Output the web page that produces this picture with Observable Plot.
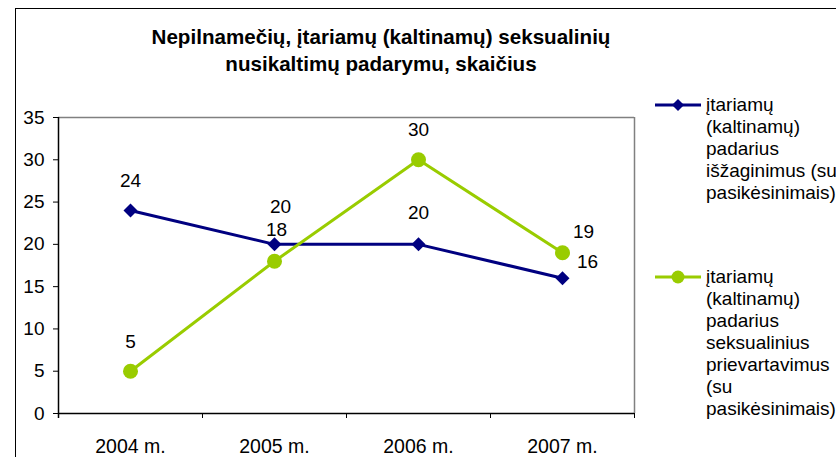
<!DOCTYPE html>
<html>
<head>
<meta charset="utf-8">
<script src="https://cdn.jsdelivr.net/npm/d3@7"></script>
<script src="https://cdn.jsdelivr.net/npm/@observablehq/plot@0.6"></script>
<style>
  html, body { margin: 0; padding: 0; background: #fff; overflow: hidden; }
  #wrap { position: relative; width: 836px; height: 457px; overflow: hidden; font-family: "Liberation Sans", Arial, sans-serif; }
  #frame { position: absolute; left: 15px; top: 8px; width: 900px; height: 600px; border: 1.5px solid #000; box-sizing: border-box; }
  #title { position: absolute; left: 101px; width: 560px; top: 23px; text-align: center; font-weight: bold; font-size: 20.6px; line-height: 27px; color: #000; }
  #chart { position: absolute; left: 0; top: 0; }
  .leg { position: absolute; left: 654px; }
  .leg svg { position: absolute; left: 0; }
  .leg .txt { position: absolute; left: 52px; font-size: 19px; line-height: 22px; color: #000; white-space: nowrap; }
</style>
</head>
<body>
<div id="wrap">
  <div id="frame"></div>
  <div id="title"></div>
  <div id="chart"></div>
  <div id="legend"></div>
</div>
<script>
const title = ["Nepilnamečių, įtariamų (kaltinamų) seksualinių", "nusikaltimų padarymu, skaičius"];
const years = ["2004 m.", "2005 m.", "2006 m.", "2007 m."];
const seriesNames = [
  ["įtariamų", "(kaltinamų)", "padarius", "išžaginimus (su", "pasikėsinimais)"],
  ["įtariamų", "(kaltinamų)", "padarius", "seksualinius", "prievartavimus", "(su", "pasikėsinimais)"]
];
const rapeValues = [24, 20, 20, 16];
const sexAbuseValues = [5, 18, 30, 19];
const yTicks = [0, 5, 10, 15, 20, 25, 30, 35];

const blue = "#000080";
const green = "#99CC00";

// layout (not data)
const W = 836, H = 457, ML = 58, MR = 202, MT = 117, MB = 44;
const half = (W - ML - MR) / years.length / 2;
const labelOffsets = [
  [[0, -30], [6, -37], [0, -31], [25, -16]],
  [[0, -29], [2, -31], [0, -30], [21, -21]]
];

document.getElementById("title").innerHTML = title.join("<br>");

const s1 = years.map((x, i) => ({x, y: rapeValues[i]}));
const s2 = years.map((x, i) => ({x, y: sexAbuseValues[i]}));

const labelMarks = [];
[s1, s2].forEach((s, si) => {
  s.forEach((d, i) => {
    labelMarks.push(Plot.text([d], {
      x: "x", y: "y", text: dd => String(dd.y),
      dx: labelOffsets[si][i][0], dy: labelOffsets[si][i][1],
      fontSize: 19, fill: "#000"
    }));
  });
});

const chart = Plot.plot({
  width: W, height: H,
  marginLeft: ML, marginRight: MR, marginTop: MT, marginBottom: MB,
  style: {fontFamily: '"Liberation Sans", Arial, sans-serif', color: "#000", background: "transparent", overflow: "visible"},
  x: {type: "band", domain: years, padding: 0, axis: null},
  y: {domain: [0, 35], axis: null},
  marks: [
    Plot.ruleY([35], {stroke: "#808080", strokeWidth: 1.5}),
    Plot.ruleX([years[years.length - 1]], {dx: half, stroke: "#808080", strokeWidth: 1.5}),
    Plot.axisY({ticks: yTicks, tickSize: 5, tickPadding: 9, fontSize: 19, stroke: "#000", fill: "#000", label: null}),
    Plot.axisX({tickSize: 0, tickPadding: 26, fontSize: 19.5, fill: "#000", label: null}),
    Plot.axisX({tickSize: 5, tickFormat: () => "", dx: half, stroke: "#000", label: null}),
    Plot.ruleY([0], {stroke: "#000", strokeWidth: 1.5}),
    Plot.ruleX([years[0]], {dx: -half, stroke: "#000", strokeWidth: 1.5, insetBottom: -5}),
    Plot.line(s1, {x: "x", y: "y", stroke: blue, strokeWidth: 3}),
    Plot.line(s2, {x: "x", y: "y", stroke: green, strokeWidth: 3}),
    Plot.dot(s1, {x: "x", y: "y", symbol: "diamond2", r: 6.3, fill: blue, stroke: "none"}),
    Plot.dot(s2, {x: "x", y: "y", symbol: "circle", r: 7.5, fill: green, stroke: "none"}),
    ...labelMarks
  ]
});
document.getElementById("chart").appendChild(chart);

// legend
const legendTops = [94, 266];
const legendLineY = [105, 277];
const legend = document.getElementById("legend");
seriesNames.forEach((lines, i) => {
  const g = document.createElement("div");
  g.className = "leg";
  g.style.top = "0px";
  const color = i === 0 ? blue : green;
  const marker = i === 0
    ? `<path d="M24,${legendLineY[i]-6} L30,${legendLineY[i]} L24,${legendLineY[i]+6} L18,${legendLineY[i]} Z" fill="${color}"/>`
    : `<circle cx="24" cy="${legendLineY[i]}" r="6.5" fill="${color}"/>`;
  g.innerHTML = `<svg width="50" height="457" style="top:0"><line x1="1" x2="47" y1="${legendLineY[i]}" y2="${legendLineY[i]}" stroke="${color}" stroke-width="3"/>${marker}</svg>` +
    `<div class="txt" style="top:${legendTops[i]}px">${lines.join("<br>")}</div>`;
  legend.appendChild(g);
});
</script>
</body>
</html>
